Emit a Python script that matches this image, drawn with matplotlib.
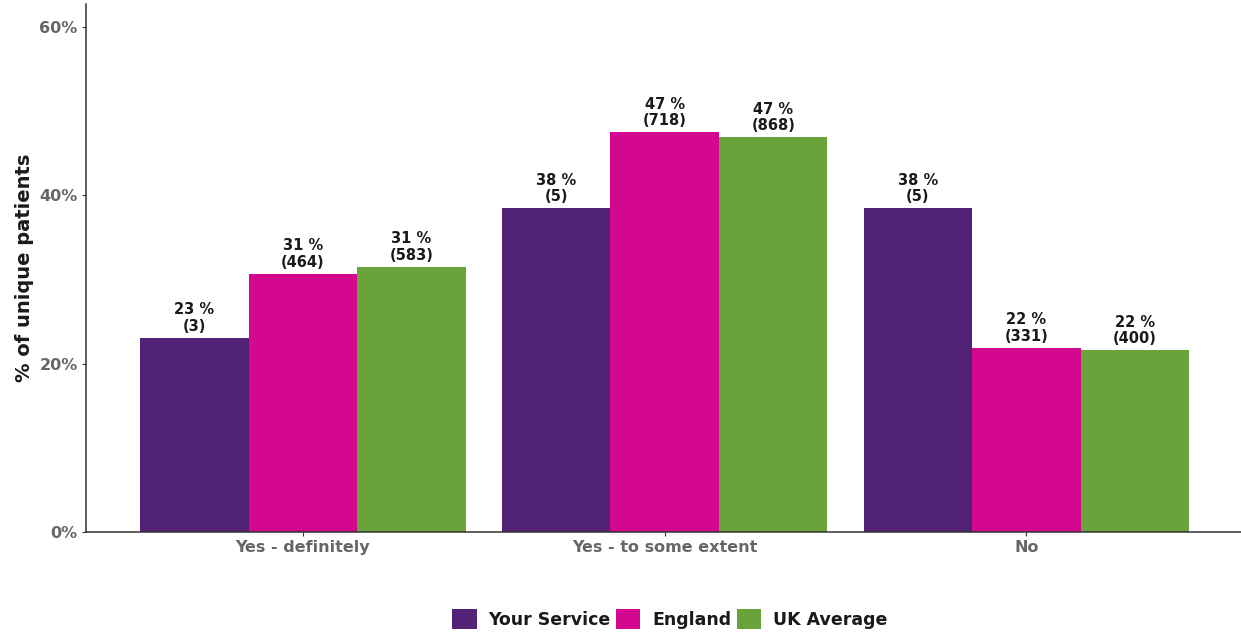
import numpy as np
import matplotlib.pyplot as plt

categories = ["Yes - definitely", "Yes - to some extent", "No"]
series = ["Your Service", "England", "UK Average"]
colors = ["#522276", "#D4088F", "#6AA33A"]

# respondent counts per answer, one list per series
counts_service = [3, 5, 5]
counts_england = [464, 718, 331]
counts_uk = [583, 868, 400]

yticks = [0, 20, 40, 60]
ytick_labels = ["0%", "20%", "40%", "60%"]

plt.rcParams["font.family"] = ["DejaVu Sans"]

fig = plt.figure(figsize=(12.41, 6.32), dpi=100)
ax = fig.add_axes([86 / 1241, 100 / 632, (1241 - 86) / 1241, (532 - 4) / 632])

x = np.arange(1, len(categories) + 1)
width = 0.3
all_counts = [counts_service, counts_england, counts_uk]

for i, (name, col, cnt) in enumerate(zip(series, colors, all_counts)):
    cnt = np.array(cnt, dtype=float)
    pct = cnt / cnt.sum() * 100
    xs = x + (i - 1) * width
    ax.bar(xs, pct, width=width, color=col, label=name, linewidth=0)
    for xi, p, c in zip(xs, pct, cnt):
        ax.annotate(f"{p:.0f} %\n({int(c)})", (xi, p), xytext=(0, 3),
                    textcoords="offset points", ha="center", va="bottom",
                    fontsize=10.5, fontweight="bold", color="#1a1a1a",
                    linespacing=1.1)

ax.set_xlim(0.4, 3 + (1241 - 1026.5) / 361.5)
ax.set_ylim(0, 62.7)
ax.set_yticks(yticks)
ax.set_yticklabels(ytick_labels)
ax.set_xticks(x)
ax.set_xticklabels(categories)

for s in ["top", "right"]:
    ax.spines[s].set_visible(False)
for s in ["left", "bottom"]:
    ax.spines[s].set_color("#333333")
    ax.spines[s].set_linewidth(1.1)

ax.tick_params(axis="both", length=3, color="#333333", labelsize=11.5,
               labelcolor="#666666", pad=3)
for lbl in ax.get_xticklabels() + ax.get_yticklabels():
    lbl.set_fontweight("bold")

ax.set_ylabel("% of unique patients", fontsize=14, fontweight="bold",
              color="#1a1a1a", labelpad=4)

leg = fig.legend(loc="center", bbox_to_anchor=(670 / 1241, 1 - 619 / 632),
                 ncol=3, frameon=False, handlelength=1.4, handleheight=1.4,
                 handletextpad=0.7, columnspacing=0.3,
                 prop={"size": 12.5, "weight": "bold"})
for t in leg.get_texts():
    t.set_color("#1a1a1a")

fig.savefig("out.png", dpi=100)
